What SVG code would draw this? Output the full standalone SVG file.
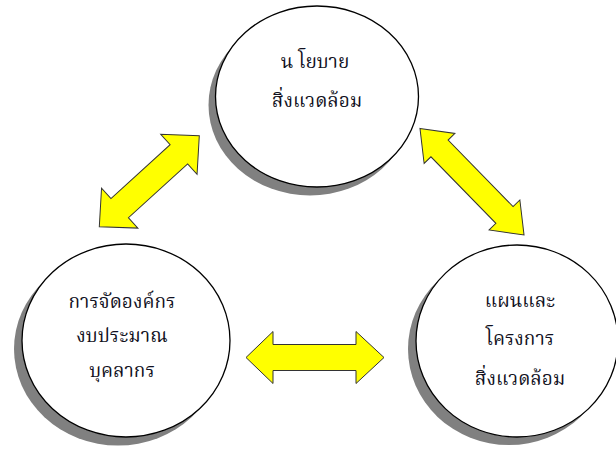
<svg xmlns="http://www.w3.org/2000/svg" width="616" height="450" viewBox="0 0 616 450">
<style>
.shadow{fill:#808080;stroke:none}
.circle{fill:#ffffff;stroke:#000000;stroke-width:1.3}
.arrow{fill:#ffff00;stroke:#333333;stroke-width:1;stroke-linejoin:miter}
.label{font-family:"Noto Serif Thai","Noto Sans Thai Looped","Noto Sans Thai","Tahoma","Loma","Garuda","DejaVu Sans",serif;font-size:19px;fill:#111122;text-anchor:middle}
</style>
<rect width="616" height="450" fill="#ffffff"/>
<g id="node-policy">
<ellipse class="shadow" cx="310" cy="105" rx="101.5" ry="90.5"/>
<ellipse class="circle" cx="317" cy="96.5" rx="101.5" ry="90.5"/>
<text class="label" x="315" y="68">น โยบาย</text>
<text class="label" x="317" y="107">สิ่งแวดล้อม</text>
</g>
<g id="node-organization">
<ellipse class="shadow" cx="118" cy="349" rx="104" ry="96.5"/>
<ellipse class="circle" cx="126" cy="340.5" rx="104" ry="96.5"/>
<text class="label" x="122" y="308">การจัดองค์กร</text>
<text class="label" x="122" y="342">งบประมาณ</text>
<text class="label" x="122" y="377">บุคลากร</text>
</g>
<g id="node-plans">
<ellipse class="shadow" cx="509" cy="349" rx="101" ry="96"/>
<ellipse class="circle" cx="517" cy="341" rx="101" ry="96"/>
<text class="label" x="520" y="307">แผนและ</text>
<text class="label" x="520" y="345">โครงการ</text>
<text class="label" x="520" y="385">สิ่งแวดล้อม</text>
</g>
<g id="connectors">
<polygon class="arrow" points="-67.6,0 -40,-27 -40,-13 40,-13 40,-27 67.6,0 40,27 40,13 -40,13 -40,27" transform="translate(149.3,181.2) rotate(-42.3)"/>
<polygon class="arrow" points="-74.5,0 -46.5,-21.5 -46.5,-12 46.5,-12 46.5,-21.5 74.5,0 46.5,21.5 46.5,12 -46.5,12 -46.5,21.5" transform="translate(472,181.7) rotate(45.7)"/>
<polygon class="arrow" points="246,357.5 273,331.5 273,344.5 356,344.5 356,331.5 384,357.5 356,383.5 356,370.5 273,370.5 273,383.5"/>
</g>
</svg>
